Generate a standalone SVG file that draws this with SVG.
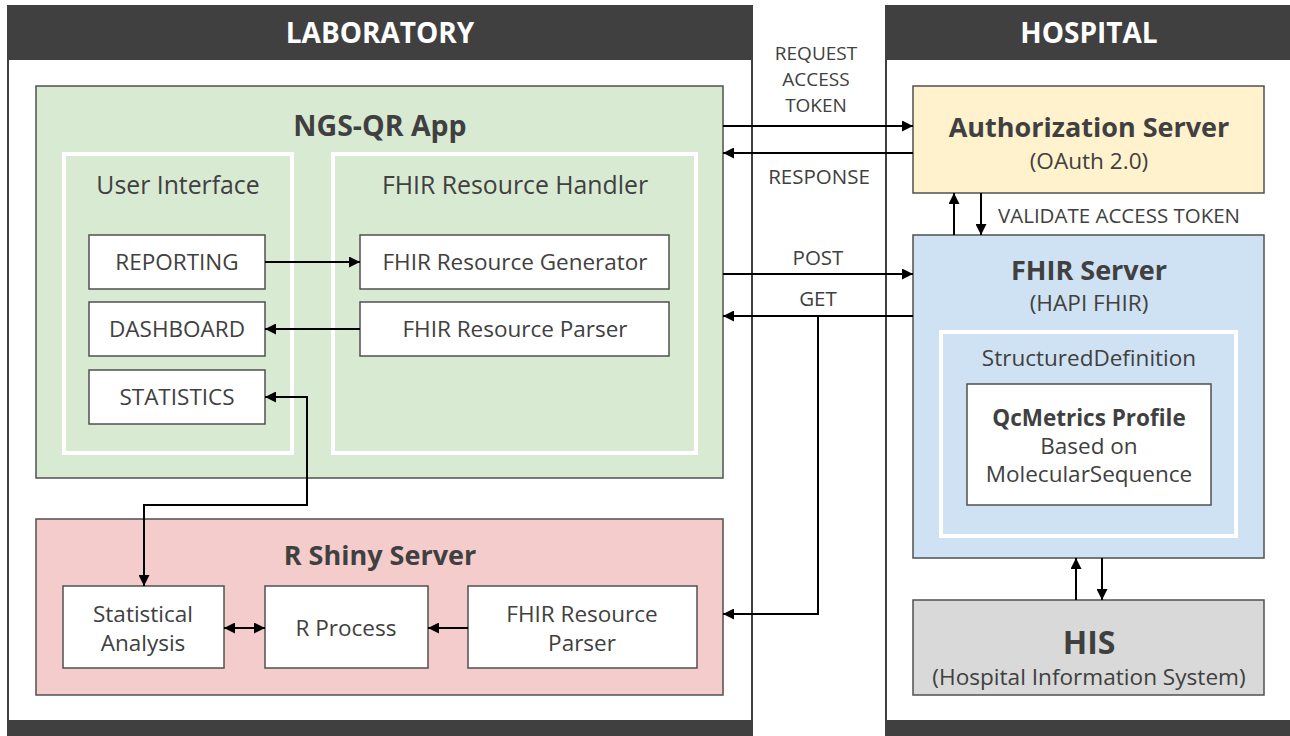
<svg xmlns="http://www.w3.org/2000/svg" width="1290" height="736" viewBox="0 0 1290 736">
<defs>
<marker id="ah" viewBox="0 0 10 10" refX="10" refY="5" markerWidth="11" markerHeight="11" markerUnits="userSpaceOnUse" orient="auto-start-reverse">
<path d="M0,0 L10,5 L0,10 z" fill="#000"/>
</marker>
<style>
text{font-family:"Open Sans","Noto Sans","DejaVu Sans",sans-serif;fill:#404040;text-anchor:middle}
.hdr{fill:#fff;font-weight:bold;font-size:28px}
.ttl{font-weight:bold;font-size:27px}
.sub{font-size:22.6px}
.lbl{font-size:22.5px}
.grpt{font-size:24.8px}
.sm{font-size:20.5px}
.tk{font-size:19px}
.box{stroke:#505050;stroke-width:1.5}
.wb{fill:#fff;stroke:#505050;stroke-width:1.5}
.grp{fill:none;stroke:#fff;stroke-width:4}
.con{fill:none;stroke:#000;stroke-width:2}
</style>
</defs>
<rect width="1290" height="736" fill="#fff"/>
<g id="laboratory">
<rect x="8" y="6" width="744" height="728" fill="#fff" stroke="#404040" stroke-width="2"/>
<rect x="7" y="5" width="746" height="55" fill="#404040"/>
<rect x="7" y="720" width="746" height="16" fill="#404040"/>
<text class="hdr" x="380" y="43">LABORATORY</text>
</g>
<g id="hospital">
<rect x="886" y="6" width="410" height="728" fill="#fff" stroke="#404040" stroke-width="2"/>
<rect x="885" y="5" width="405" height="55" fill="#404040"/>
<rect x="885" y="720" width="405" height="16" fill="#404040"/>
<text class="hdr" x="1089" y="43">HOSPITAL</text>
</g>
<g id="ngs-qr-app">
<rect class="box" x="36" y="86" width="687" height="392" fill="#d9ead3"/>
<text class="ttl" x="380" y="136" style="font-size:28.5px">NGS-QR App</text>
</g>
<g id="user-interface">
<rect class="grp" x="64" y="154" width="228" height="299"/>
<text class="grpt" x="178" y="194">User Interface</text>
</g>
<g id="fhir-resource-handler">
<rect class="grp" x="333" y="154" width="363" height="299"/>
<text class="grpt" x="515" y="194">FHIR Resource Handler</text>
</g>
<g id="reporting">
<rect class="wb" x="89" y="235" width="176" height="54"/>
<text class="lbl" x="177" y="270">REPORTING</text>
</g>
<g id="dashboard">
<rect class="wb" x="89" y="302" width="176" height="54"/>
<text class="lbl" x="177" y="337">DASHBOARD</text>
</g>
<g id="statistics">
<rect class="wb" x="89" y="370" width="176" height="54"/>
<text class="lbl" x="177" y="405">STATISTICS</text>
</g>
<g id="fhir-resource-generator">
<rect class="wb" x="360" y="235" width="309" height="54"/>
<text class="lbl" x="515" y="270">FHIR Resource Generator</text>
</g>
<g id="fhir-resource-parser-app">
<rect class="wb" x="360" y="302" width="309" height="54"/>
<text class="lbl" x="515" y="337">FHIR Resource Parser</text>
</g>
<g id="r-shiny-server">
<rect class="box" x="36" y="519" width="687" height="176" fill="#f4cccc"/>
<text class="ttl" x="380" y="565">R Shiny Server</text>
</g>
<g id="statistical-analysis">
<rect class="wb" x="63" y="586" width="161" height="82"/>
<text class="lbl" x="143" y="622">Statistical</text>
<text class="lbl" x="143" y="651">Analysis</text>
</g>
<g id="r-process">
<rect class="wb" x="265" y="586" width="163" height="82"/>
<text class="lbl" x="346" y="636">R Process</text>
</g>
<g id="fhir-resource-parser-r">
<rect class="wb" x="468" y="586" width="229" height="82"/>
<text class="lbl" x="582" y="622">FHIR Resource</text>
<text class="lbl" x="582" y="651">Parser</text>
</g>
<g id="authorization-server">
<rect class="box" x="913" y="86" width="351" height="107" fill="#fff2cc"/>
<text class="ttl" x="1089" y="137">Authorization Server</text>
<text class="sub" x="1089" y="169">(OAuth 2.0)</text>
</g>
<g id="fhir-server">
<rect class="box" x="913" y="235" width="351" height="323" fill="#cfe2f3"/>
<text class="ttl" x="1089" y="280">FHIR Server</text>
<text class="sub" x="1089" y="311">(HAPI FHIR)</text>
</g>
<g id="structured-definition">
<rect class="grp" x="941" y="332" width="295" height="204"/>
<text class="lbl" x="1089" y="366">StructuredDefinition</text>
</g>
<g id="qcmetrics-profile">
<rect class="wb" x="967" y="384" width="244" height="121"/>
<text class="lbl" x="1089" y="426" style="font-weight:bold">QcMetrics Profile</text>
<text class="lbl" x="1089" y="454">Based on</text>
<text class="lbl" x="1089" y="482">MolecularSequence</text>
</g>
<g id="his">
<rect class="box" x="913" y="600" width="351" height="95" fill="#d9d9d9"/>
<text class="ttl" x="1089" y="654" style="font-size:32px">HIS</text>
<text class="sub" x="1089" y="685">(Hospital Information System)</text>
</g>
<g id="connectors">
<path class="con" d="M265,262 H360" marker-end="url(#ah)"/>
<path class="con" d="M360,329 H265" marker-end="url(#ah)"/>
<path class="con" d="M265,397 H307 V505 H144 V586" marker-start="url(#ah)" marker-end="url(#ah)"/>
<path class="con" d="M224,628 H265" marker-start="url(#ah)" marker-end="url(#ah)"/>
<path class="con" d="M468,628 H428" marker-end="url(#ah)"/>
<path class="con" d="M723,126 H913" marker-end="url(#ah)"/>
<path class="con" d="M913,153 H723" marker-end="url(#ah)"/>
<path class="con" d="M723,274 H913" marker-end="url(#ah)"/>
<path class="con" d="M913,316 H723" marker-end="url(#ah)"/>
<path class="con" d="M818,316 V614 H723" marker-end="url(#ah)"/>
<path class="con" d="M954,235 V193" marker-end="url(#ah)"/>
<path class="con" d="M981,193 V235" marker-end="url(#ah)"/>
<path class="con" d="M1076,600 V558" marker-end="url(#ah)"/>
<path class="con" d="M1102,558 V600" marker-end="url(#ah)"/>
<text class="tk" x="816" y="60">REQUEST</text>
<text class="tk" x="816" y="86">ACCESS</text>
<text class="tk" x="816" y="112">TOKEN</text>
<text class="sm" x="819" y="184">RESPONSE</text>
<text class="sm" x="818" y="265">POST</text>
<text class="sm" x="818" y="306">GET</text>
<text class="sm" x="998" y="223" style="text-anchor:start">VALIDATE ACCESS TOKEN</text>
</g>
</svg>
